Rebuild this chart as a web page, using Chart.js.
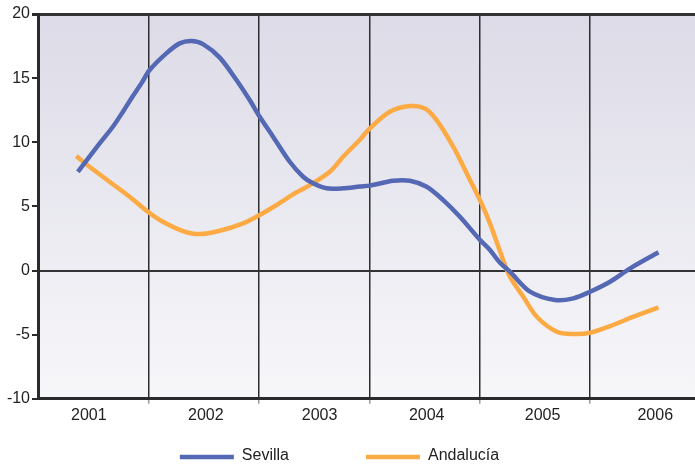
<!DOCTYPE html>
<html>
<head>
<meta charset="utf-8">
<script src="https://cdn.jsdelivr.net/npm/chart.js@4/dist/chart.umd.min.js"></script>
<style>
  html, body { margin: 0; padding: 0; background: #ffffff; }
  #wrap { width: 695px; height: 466px; }
</style>
</head>
<body>
<div id="wrap"><canvas id="c" width="695" height="466"></canvas></div>
<script>
// ---- data (x in years since start of 2001) ----
const seriesNames = ["Sevilla", "Andalucía"];
const yearLabels = ["2001", "2002", "2003", "2004", "2005", "2006"];
const yearLabelPos = [0.46, 1.52, 2.55, 3.52, 4.57, 5.59];
const yearBoundaries = [1, 2, 3, 4, 5];

const sevillaT = [0.361, 0.558, 0.678, 0.769, 0.845, 0.936, 1.011, 1.162, 1.283, 1.389, 1.494, 1.646, 1.797, 1.917, 2.008, 2.129, 2.280, 2.401, 2.491, 2.613, 2.763, 2.915, 3.005, 3.217, 3.368, 3.520, 3.670, 3.821, 4.003, 4.093, 4.184, 4.274, 4.456, 4.682, 4.849, 5.000, 5.181, 5.363, 5.619];
const sevillaV = [7.70, 9.91, 11.21, 12.38, 13.42, 14.59, 15.63, 16.93, 17.71, 17.89, 17.65, 16.60, 14.85, 13.29, 11.99, 10.43, 8.48, 7.31, 6.80, 6.41, 6.41, 6.55, 6.62, 7.00, 7.00, 6.53, 5.49, 4.19, 2.38, 1.60, 0.60, -0.09, -1.65, -2.30, -2.17, -1.65, -0.87, 0.17, 1.42];

const andaluciaT = [0.346, 0.467, 0.648, 0.830, 0.995, 1.131, 1.313, 1.464, 1.646, 1.857, 2.008, 2.160, 2.310, 2.461, 2.643, 2.763, 2.915, 3.005, 3.186, 3.368, 3.504, 3.610, 3.761, 3.882, 4.003, 4.093, 4.184, 4.274, 4.395, 4.517, 4.698, 4.849, 5.000, 5.181, 5.393, 5.619];
const andaluciaV = [8.92, 8.09, 6.92, 5.75, 4.58, 3.80, 3.08, 2.84, 3.10, 3.68, 4.33, 5.11, 5.94, 6.66, 7.70, 8.87, 10.20, 11.08, 12.38, 12.82, 12.64, 11.73, 9.65, 7.58, 5.49, 3.68, 1.50, -0.48, -2.04, -3.60, -4.77, -4.95, -4.85, -4.33, -3.60, -2.87];

const yTicks = [-10, -5, 0, 5, 10, 15, 20];

// ---- styles ----
const colors = ["#5468b3", "#fcaa43"];
const FONT = '"Liberation Sans", Arial, Helvetica, sans-serif';
const TEXT = "#222222";
const AXIS = "#2c2a2c";

function pts(ts, vs) { return ts.map((t, i) => ({ x: t, y: vs[i] })); }

const bgPlugin = {
  id: "bg",
  beforeDraw(chart) {
    const { ctx, chartArea: a } = chart;
    const g = ctx.createLinearGradient(0, a.top, 0, a.bottom);
    g.addColorStop(0, "rgb(220,219,231)");
    g.addColorStop(1, "rgb(247,247,250)");
    ctx.save();
    ctx.fillStyle = g;
    ctx.fillRect(a.left, a.top, a.right - a.left, a.bottom - a.top);
    ctx.restore();
  }
};

const legendPlugin = {
  id: "customLegend",
  afterDraw(chart) {
    const { ctx } = chart;
    const ds = chart.data.datasets;
    const boxW = 54, gapText = 8, gapItems = 77, y = 457;
    ctx.save();
    ctx.font = "16px " + FONT;
    const widths = ds.map(d => boxW + gapText + ctx.measureText(d.label).width);
    const total = widths.reduce((s, w) => s + w, 0) + gapItems * (ds.length - 1);
    let x = (chart.width - total) / 2 - 8;
    ds.forEach((d, i) => {
      ctx.strokeStyle = d.borderColor;
      ctx.lineWidth = 4.5;
      ctx.beginPath();
      ctx.moveTo(x, y);
      ctx.lineTo(x + boxW, y);
      ctx.stroke();
      ctx.fillStyle = TEXT;
      ctx.textBaseline = "middle";
      ctx.textAlign = "left";
      ctx.fillText(d.label, x + boxW + gapText, y - 1);
      x += widths[i] + gapItems;
    });
    ctx.restore();
  }
};

new Chart(document.getElementById("c"), {
  type: "line",
  data: {
    datasets: [
      { label: seriesNames[0], data: pts(sevillaT, sevillaV), borderColor: colors[0], backgroundColor: colors[0] },
      { label: seriesNames[1], data: pts(andaluciaT, andaluciaV), borderColor: colors[1], backgroundColor: colors[1] }
    ]
  },
  options: {
    responsive: false,
    animation: false,
    layout: { padding: { top: 14, right: 0, bottom: 39, left: 0 } },
    elements: {
      line: { borderWidth: 4.5, tension: 0.3, cubicInterpolationMode: "default", borderCapStyle: "butt" },
      point: { radius: 0, hoverRadius: 0 }
    },
    plugins: { legend: { display: false }, tooltip: { enabled: false } },
    scales: {
      x: {
        type: "linear",
        min: 0,
        max: 5.95,
        afterBuildTicks(axis) {
          const all = yearBoundaries.concat(yearLabelPos).sort((a, b) => a - b);
          axis.ticks = all.map(v => ({ value: v }));
        },
        border: { display: true, color: AXIS, width: 3 },
        grid: {
          display: true,
          drawOnChartArea: true,
          drawTicks: true,
          tickLength: 5,
          color: c => (c.tick && yearBoundaries.includes(c.tick.value)) ? "#2e2e30" : "rgba(0,0,0,0)",
          tickColor: c => (c.tick && yearBoundaries.includes(c.tick.value)) ? "#9a9a9a" : "rgba(0,0,0,0)",
          lineWidth: 1.5
        },
        ticks: {
          autoSkip: false,
          maxRotation: 0,
          padding: 2,
          color: TEXT,
          font: { size: 16, family: FONT },
          callback: (v) => {
            const i = yearLabelPos.indexOf(v);
            return i >= 0 ? yearLabels[i] : "";
          }
        }
      },
      y: {
        min: -10,
        max: 20,
        afterBuildTicks(axis) { axis.ticks = yTicks.map(v => ({ value: v })); },
        afterFit(axis) { axis.width = 38; },
        border: { display: true, color: AXIS, width: 3 },
        grid: {
          drawTicks: true,
          tickLength: 6,
          tickColor: AXIS,
          color: c => (c.tick && (c.tick.value === 0 || c.tick.value === 20)) ? "#333235" : "rgba(0,0,0,0)",
          lineWidth: c => (c.tick && c.tick.value === 20) ? 3 : 2
        },
        ticks: {
          padding: 2,
          color: TEXT,
          font: { size: 16, family: FONT }
        }
      }
    }
  },
  plugins: [bgPlugin, legendPlugin]
});
</script>
</body>
</html>
